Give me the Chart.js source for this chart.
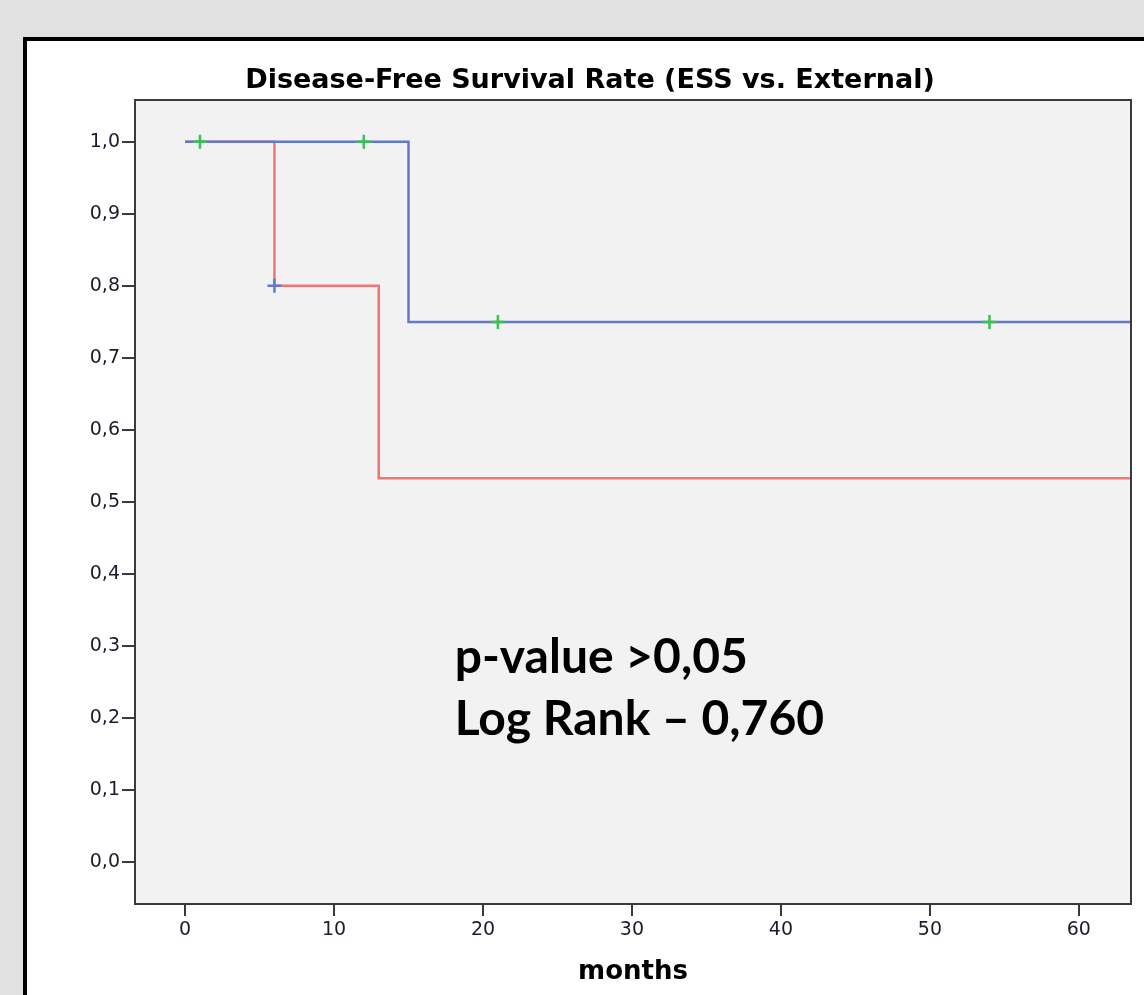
<!DOCTYPE html>
<html>
<head>
<meta charset="utf-8">
<script src="https://cdn.jsdelivr.net/npm/chart.js@4.4.0/dist/chart.umd.min.js"></script>
<style>
    html, body {
        margin: 0;
        padding: 0;
        width: 1144px;
        height: 995px;
        overflow: hidden;
        background: #e1e1e1;
    }

    #frame {
        position: absolute;
        left: 23px;
        top: 37px;
        width: 1200px;
        height: 1000px;
        border: 4px solid #000;
        background: #fff;
    }

    #wrap {
        position: absolute;
        left: 0;
        top: 0;
        width: 1144px;
        height: 995px;
    }
</style>
</head>
<body>
<div id="frame"></div>
<div id="wrap"><canvas id="km" width="1144" height="995"></canvas></div>
<script>
// Kaplan-Meier steps (months / cumulative survival)
var ess_times = [0, 15, 64];
var ess_survival = [1.0, 0.75, 0.75];

var ext_times = [0, 6, 13, 64];
var ext_survival = [1.0, 0.8, 0.533, 0.533];

// Censored cases (the little crosses)
var ess_censor_times = [1, 12, 21, 54];
var ess_censor_survival = [1.0, 1.0, 0.75, 0.75];

var ext_censor_times = [6];
var ext_censor_survival = [0.8];

var x_ticks = [0, 10, 20, 30, 40, 50, 60];
var y_ticks = [0.0, 0.1, 0.2, 0.3, 0.4, 0.5, 0.6, 0.7, 0.8, 0.9, 1.0];
var y_tick_labels = ["0,0", "0,1", "0,2", "0,3", "0,4", "0,5", "0,6", "0,7", "0,8", "0,9", "1,0"];

var chart_title = "Disease-Free Survival Rate (ESS vs. External)";
var note_lines = ["p-value >0,05", "Log Rank \u2013 0,760"];

var blue = "#6079cf";
var red = "#f27474";
var green = "#3cc052";
var axis_color = "#3a3a3a";
var tick_font = {"family": "DejaVu Sans", "size": 19};

function to_points (xs, ys) {
    var points = [];

    for (var i = 0; i < xs.length; i++) {
        points.push({"x": xs[i], "y": ys[i]});
    }

    return points;
}

// Grey plot panel behind the curves, frame + texts on top
var panel_plugin = {
    "id": "panel",
    "beforeDraw": function (chart) {
        var ctx = chart.ctx;
        var a = chart.chartArea;

        ctx.save();
        ctx.fillStyle = "#f2f2f2";
        ctx.fillRect(a.left, a.top, a.right - a.left, a.bottom - a.top);
        ctx.restore();
    },
    "afterDraw": function (chart) {
        var ctx = chart.ctx;
        var a = chart.chartArea;

        ctx.save();
        ctx.strokeStyle = axis_color;
        ctx.lineWidth = 2;
        ctx.strokeRect(a.left, a.top, a.right - a.left, a.bottom - a.top);

        // Title, placed like the SPSS output (not centred on the panel)
        ctx.fillStyle = "#000";
        ctx.font = "bold 27px 'DejaVu Sans'";
        ctx.textAlign = "center";
        ctx.textBaseline = "middle";
        ctx.fillText(chart_title, 590, 81);

        // Log rank note inside the panel
        var x = chart.scales.x.getPixelForValue(18.1);
        var y = chart.scales.y.getPixelForValue(0.2625);

        ctx.font = "bold 48px Lato";
        ctx.textAlign = "left";
        ctx.textBaseline = "alphabetic";

        for (var i = 0; i < note_lines.length; i++) {
            ctx.fillText(note_lines[i], x, y + i * 62);
        }

        ctx.restore();
    }
};

var config = {
    "type": "scatter",
    "data": {
        "datasets": [
            {
                "label": "ESS censored",
                "data": to_points(ess_censor_times, ess_censor_survival),
                "showLine": false,
                "pointStyle": "cross",
                "pointRadius": 7,
                "borderColor": green,
                "borderWidth": 2.5
            },
            {
                "label": "External censored",
                "data": to_points(ext_censor_times, ext_censor_survival),
                "showLine": false,
                "pointStyle": "cross",
                "pointRadius": 7,
                "borderColor": blue,
                "borderWidth": 2.5
            },
            {
                "label": "ESS",
                "data": to_points(ess_times, ess_survival),
                "showLine": true,
                "stepped": true,
                "pointRadius": 0,
                "borderColor": blue,
                "borderWidth": 2.5,
                "fill": false
            },
            {
                "label": "External",
                "data": to_points(ext_times, ext_survival),
                "showLine": true,
                "stepped": true,
                "pointRadius": 0,
                "borderColor": red,
                "borderWidth": 2.5,
                "fill": false
            }
        ]
    },
    "options": {
        "responsive": false,
        "animation": false,
        "layout": {
            "padding": {"top": 100, "right": 13, "bottom": 0, "left": 0}
        },
        "scales": {
            "x": {
                "type": "linear",
                "min": -3.36,
                "max": 63.5,
                "afterBuildTicks": function (scale) {
                    scale.ticks = x_ticks.map(function (v) { return {"value": v}; });
                },
                "afterFit": function (scale) {
                    scale.height = 91;
                },
                "border": {"display": false},
                "grid": {
                    "drawOnChartArea": false,
                    "drawTicks": true,
                    "tickLength": 12,
                    "color": axis_color,
                    "lineWidth": 2
                },
                "ticks": {
                    "color": "#1c1c2c",
                    "font": tick_font,
                    "padding": 3,
                    "maxRotation": 0
                },
                "title": {
                    "display": true,
                    "text": "months",
                    "color": "#000",
                    "font": {"family": "DejaVu Sans", "size": 26, "weight": "bold"},
                    "padding": {"top": 0, "bottom": 7}
                }
            },
            "y": {
                "type": "linear",
                "min": -0.058,
                "max": 1.058,
                "afterBuildTicks": function (scale) {
                    scale.ticks = y_ticks.map(function (v) { return {"value": v}; });
                },
                "afterFit": function (scale) {
                    scale.width = 135;
                },
                "border": {"display": false},
                "grid": {
                    "drawOnChartArea": false,
                    "drawTicks": true,
                    "tickLength": 13,
                    "color": axis_color,
                    "lineWidth": 2
                },
                "ticks": {
                    "color": "#1c1c2c",
                    "font": tick_font,
                    "padding": 2,
                    "callback": function (value) {
                        var i = y_ticks.indexOf(value);

                        return i >= 0 ? y_tick_labels[i] : "";
                    }
                }
            }
        },
        "plugins": {
            "legend": {"display": false},
            "tooltip": {"enabled": false},
            "title": {"display": false}
        }
    },
    "plugins": [panel_plugin]
};

new Chart(document.getElementById("km").getContext("2d"), config);
</script>
</body>
</html>
